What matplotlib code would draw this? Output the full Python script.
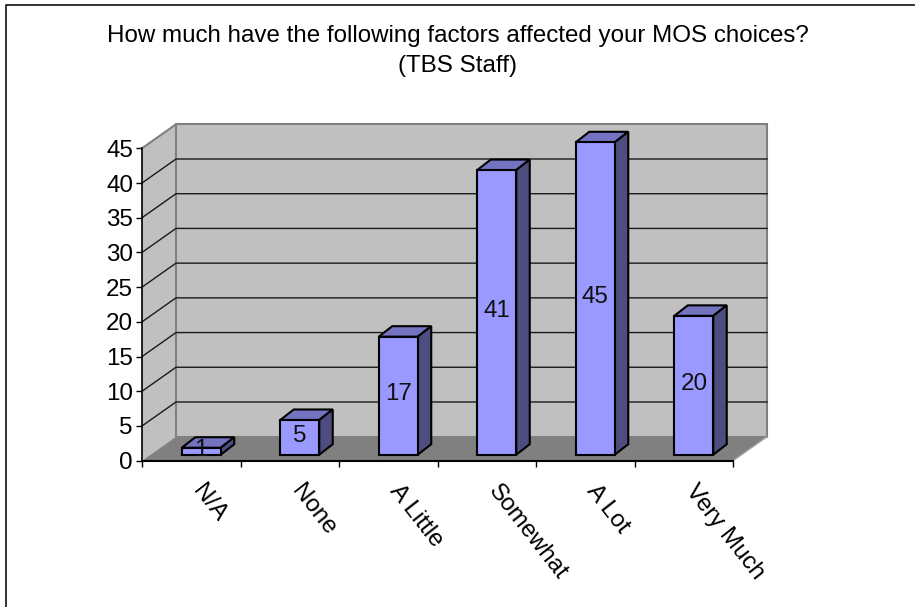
import numpy as np
import matplotlib.pyplot as plt
from matplotlib.patches import Polygon

plt.rcParams['font.family'] = ['Liberation Sans', 'DejaVu Sans']

categories = ['N/A', 'None', 'A Little', 'Somewhat', 'A Lot', 'Very Much']
counts = [1, 5, 17, 41, 45, 20]
y_ticks = [0, 5, 10, 15, 20, 25, 30, 35, 40, 45]
title = 'How much have the following factors affected your MOS choices?\n(TBS Staff)'

W, H = 918, 607
FS = 17.35

fig = plt.figure(figsize=(W/100, H/100), dpi=100)
fig.patch.set_facecolor('white')
# frame only on the top and left, the rest is cut off in the reference
fig.add_artist(plt.Line2D([5.5/W, 5.5/W, 914/W], [0, 1 - 5/H, 1 - 5/H], color='#222222', lw=1.3))

# front plane of the fake 3d box
ax = fig.add_axes([142/W, 1 - 460.7/H, 591/W, 312.4/H])
ax.set_xlim(0, 6)
ax.set_ylim(0, 45)
ax.patch.set_visible(False)
for s in ax.spines.values():
    s.set_visible(False)

# depth of the box and of the bars, in data units
dx = 34 / 98.5
dy = 24 / 6.94
bar_dx = 13.5 / 98.5
bar_dy = 10.5 / 6.94
base_x = 10 / 98.5
base_y = 6 / 6.94
bar_w = 39 / 98.5

# walls and floor
ax.add_patch(Polygon([(0, 0), (dx, dy), (dx, 45 + dy), (0, 45)], fc='#c0c0c0', ec='none', zorder=1, clip_on=False))
ax.add_patch(Polygon([(dx, dy), (6 + dx, dy), (6 + dx, 45 + dy), (dx, 45 + dy)], fc='#c0c0c0', ec='#808080', lw=1.5, zorder=1, clip_on=False))
ax.add_patch(Polygon([(0, 0), (6, 0), (6 + dx, dy), (dx, dy)], fc='#808080', ec='none', zorder=2, clip_on=False))
ax.plot([0, dx], [45, 45 + dy], color='#808080', lw=1.5, zorder=2, clip_on=False)
ax.plot([6, 6 + dx], [0, dy], color='#a0a0a0', lw=1, zorder=2, clip_on=False)

# gridlines go along the side wall and the back wall
for t in y_ticks[1:-1]:
    ax.plot([0, dx, 6 + dx], [t, t + dy, t + dy], color='#1a1a1a', lw=1, zorder=2, clip_on=False)

# bars
x = np.arange(len(counts)) + 0.5 + base_x
ax.bar(x, counts, bar_w, bottom=base_y, color='#9999ff', ec='black', lw=1.5, zorder=5, clip_on=False)
for xi, v in zip(x, counts):
    l, r = xi - bar_w/2, xi + bar_w/2
    top = v + base_y
    ax.add_patch(Polygon([(l, top), (r, top), (r + bar_dx, top + bar_dy), (l + bar_dx, top + bar_dy)],
                         fc='#7373bf', ec='black', lw=1.5, zorder=4, clip_on=False))
    ax.add_patch(Polygon([(r, base_y), (r + bar_dx, base_y + bar_dy), (r + bar_dx, top + bar_dy), (r, top)],
                         fc='#4d4d80', ec='black', lw=1.5, zorder=4, clip_on=False))
    ax.text(xi, base_y + v/2 + 0.2, str(v), ha='center', va='center', fontsize=FS, color='#111111', zorder=6)

# axes lines and ticks
ax.plot([0, 0], [0, 45], color='black', lw=1.2, zorder=3, clip_on=False)
ax.plot([0, 6], [0, 0], color='black', lw=1.5, zorder=3, clip_on=False)
ax.set_yticks(y_ticks)
ax.set_xticks(np.arange(7))
ax.set_xticklabels([])
ax.set_xticks(np.arange(6) + 0.56, categories, minor=True)
ax.tick_params(axis='both', which='major', length=4, width=1, color='black', labelsize=FS)
ax.tick_params(axis='y', pad=2.5)
ax.tick_params(axis='x', which='minor', length=0, pad=19, labelsize=FS)
for lab in ax.get_xticklabels(minor=True):
    lab.set_rotation(-52)
    lab.set_rotation_mode('anchor')
    lab.set_ha('left')
    lab.set_va('center')

fig.text(457.5/W, 1 - 51/H, title, ha='center', va='center', fontsize=FS, linespacing=1.5)

fig.savefig('out.png', dpi=100)
